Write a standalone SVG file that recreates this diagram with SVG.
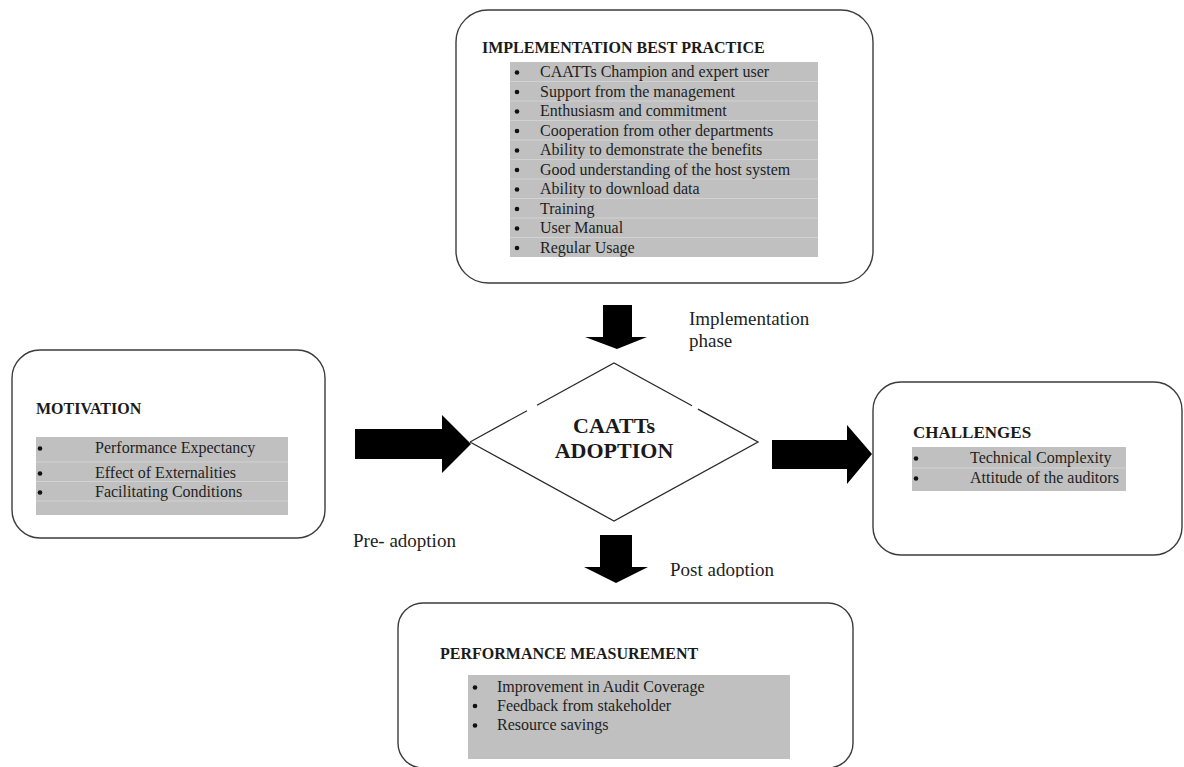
<svg xmlns="http://www.w3.org/2000/svg" width="1184" height="767" viewBox="0 0 1184 767">
  <defs>
    <style>
      .box { fill: #ffffff; stroke: #3c3c3c; stroke-width: 1.4; }
      .list { fill: #c0c0c0; }
      .rule { stroke: #d2d2d2; stroke-width: 1; }
      .title { font-family: "Liberation Serif", "Times New Roman", serif; font-weight: bold; font-size: 16px; fill: #1a1a1a; }
      .item { font-family: "Liberation Serif", "Times New Roman", serif; font-size: 16px; fill: #1e1e1e; }
      .label { font-family: "Liberation Serif", "Times New Roman", serif; font-size: 19px; fill: #1e1e1e; }
      .core { font-family: "Liberation Serif", "Times New Roman", serif; font-weight: bold; font-size: 22px; fill: #1a1a1a; text-anchor: middle; }
      .dot { fill: #111111; }
      .arrow { fill: #000000; }
      .diamond { fill: none; stroke: #2a2a2a; stroke-width: 1.3; }
    </style>
    <clipPath id="postClip">
      <rect x="660" y="550" width="140" height="27.5"/>
    </clipPath>
  </defs>

  <rect width="1184" height="767" fill="#ffffff"/>

  <!-- Implementation best practice -->
  <g id="implementation">
    <rect class="box" x="456" y="10" width="417" height="273" rx="32" ry="32"/>
    <text class="title" x="482" y="53">IMPLEMENTATION BEST PRACTICE</text>
    <rect class="list" x="510" y="62" width="308" height="195"/>
    <g>
      <line class="rule" x1="510" y1="81.5" x2="818" y2="81.5"/>
      <line class="rule" x1="510" y1="101" x2="818" y2="101"/>
      <line class="rule" x1="510" y1="120.5" x2="818" y2="120.5"/>
      <line class="rule" x1="510" y1="140" x2="818" y2="140"/>
      <line class="rule" x1="510" y1="159.5" x2="818" y2="159.5"/>
      <line class="rule" x1="510" y1="179" x2="818" y2="179"/>
      <line class="rule" x1="510" y1="198.5" x2="818" y2="198.5"/>
      <line class="rule" x1="510" y1="218" x2="818" y2="218"/>
      <line class="rule" x1="510" y1="237.5" x2="818" y2="237.5"/>
    </g>
    <g>
      <circle class="dot" cx="517" cy="72.5" r="2.3"/>
      <circle class="dot" cx="517" cy="92" r="2.3"/>
      <circle class="dot" cx="517" cy="111.5" r="2.3"/>
      <circle class="dot" cx="517" cy="131" r="2.3"/>
      <circle class="dot" cx="517" cy="150.5" r="2.3"/>
      <circle class="dot" cx="517" cy="170" r="2.3"/>
      <circle class="dot" cx="517" cy="189.5" r="2.3"/>
      <circle class="dot" cx="517" cy="209" r="2.3"/>
      <circle class="dot" cx="517" cy="228.5" r="2.3"/>
      <circle class="dot" cx="517" cy="248" r="2.3"/>
    </g>
    <text class="item" x="540" y="77">CAATTs Champion and expert user</text>
    <text class="item" x="540" y="96.5">Support from the management</text>
    <text class="item" x="540" y="116">Enthusiasm and commitment</text>
    <text class="item" x="540" y="135.5">Cooperation from other departments</text>
    <text class="item" x="540" y="155">Ability to demonstrate the benefits</text>
    <text class="item" x="540" y="174.5">Good understanding of the host system</text>
    <text class="item" x="540" y="194">Ability to download data</text>
    <text class="item" x="540" y="213.5">Training</text>
    <text class="item" x="540" y="233">User Manual</text>
    <text class="item" x="540" y="252.5">Regular Usage</text>
  </g>

  <!-- Motivation -->
  <g id="motivation">
    <rect class="box" x="12" y="350" width="313" height="188" rx="28" ry="28"/>
    <text class="title" x="36" y="414">MOTIVATION</text>
    <rect class="list" x="36" y="437" width="252" height="78"/>
    <line class="rule" x1="36" y1="462" x2="288" y2="462"/>
    <line class="rule" x1="36" y1="481.5" x2="288" y2="481.5"/>
    <line class="rule" x1="36" y1="501" x2="288" y2="501"/>
    <circle class="dot" cx="40" cy="448.5" r="2.3"/>
    <circle class="dot" cx="40" cy="473.5" r="2.3"/>
    <circle class="dot" cx="40" cy="492.5" r="2.3"/>
    <text class="item" x="95" y="453">Performance Expectancy</text>
    <text class="item" x="95" y="478">Effect of Externalities</text>
    <text class="item" x="95" y="497">Facilitating Conditions</text>
  </g>

  <!-- Central decision -->
  <g id="adoption">
    <path class="diamond" d="M470,442 L527,410.7 M537,405.2 L614,363 L692,405.8 M698,409.1 L758,442 L614,521 L470,442"/>
    <text class="core" x="614" y="433">CAATTs</text>
    <text class="core" x="614" y="458">ADOPTION</text>
  </g>

  <!-- Challenges -->
  <g id="challenges">
    <rect class="box" x="873" y="382" width="309" height="173" rx="28" ry="28"/>
    <text class="title" x="913" y="438" style="font-size:17px">CHALLENGES</text>
    <rect class="list" x="912" y="447" width="214" height="44"/>
    <line class="rule" x1="912" y1="468" x2="1126" y2="468"/>
    <circle class="dot" cx="916" cy="458.5" r="2.3"/>
    <circle class="dot" cx="916" cy="478.5" r="2.3"/>
    <text class="item" x="970" y="463">Technical Complexity</text>
    <text class="item" x="970" y="483">Attitude of the auditors</text>
  </g>

  <!-- Performance measurement -->
  <g id="performance">
    <rect class="box" x="398" y="603" width="455" height="165" rx="25" ry="25"/>
    <text class="title" x="440" y="659">PERFORMANCE MEASUREMENT</text>
    <rect class="list" x="468" y="675" width="322" height="84"/>
    <circle class="dot" cx="475" cy="687.5" r="2.3"/>
    <circle class="dot" cx="475" cy="706" r="2.3"/>
    <circle class="dot" cx="475" cy="725.5" r="2.3"/>
    <text class="item" x="497" y="692">Improvement in Audit Coverage</text>
    <text class="item" x="497" y="711">Feedback from stakeholder</text>
    <text class="item" x="497" y="730">Resource savings</text>
  </g>

  <!-- Block arrows and phase labels -->
  <g id="connectors">
    <polygon class="arrow" points="603,305 632,305 632,337 647,337 617,349 585,337 603,337"/>
    <polygon class="arrow" points="355,429 442,429 442,415 471,444 442,473 442,459 355,459"/>
    <polygon class="arrow" points="772,440 847,440 847,425 872,454 847,484 847,469 772,469"/>
    <polygon class="arrow" points="600,535 632,535 632,567 648,567 616,583 584,567 600,567"/>
    <text class="label" x="689" y="325">Implementation</text>
    <text class="label" x="689" y="347">phase</text>
    <text class="label" x="353" y="547">Pre- adoption</text>
    <text class="label" x="670" y="576" clip-path="url(#postClip)">Post adoption</text>
  </g>
</svg>
